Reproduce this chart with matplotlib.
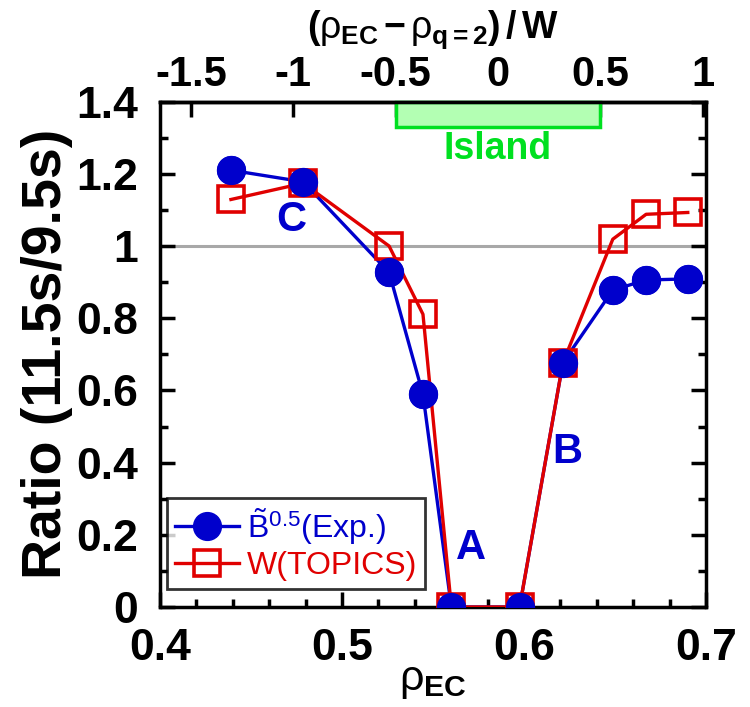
import numpy as np
import matplotlib
matplotlib.use("Agg")
import matplotlib.pyplot as plt
from matplotlib.ticker import MultipleLocator, FixedLocator
from matplotlib.patches import Rectangle

plt.rcParams["font.family"] = ["Liberation Sans", "DejaVu Sans"]
plt.rcParams["mathtext.fontset"] = "custom"
plt.rcParams["mathtext.rm"] = "Liberation Sans"
plt.rcParams["mathtext.it"] = "Liberation Sans"
plt.rcParams["mathtext.bf"] = "Liberation Sans:bold"

# EC deposition radius and ratio of amplitudes (11.5 s / 9.5 s)
rho_ec = [0.439, 0.4787, 0.5259, 0.5445, 0.5601, 0.5976, 0.6214, 0.6488, 0.6671, 0.690]
b_exp = [1.210, 1.178, 0.927, 0.589, 0.0, 0.0, 0.677, 0.878, 0.906, 0.909]
w_topics = [1.129, 1.174, 1.000, 0.811, 0.0, 0.0, 0.677, 1.019, 1.088, 1.093]

# q=2 surface location and island width
rho_q2 = 0.5857
width_w = 0.1125
island = (-0.5, 0.5)

top_ticks = [-1.5, -1, -0.5, 0, 0.5, 1]

blue = "#0000cc"
red = "#e00000"

fig = plt.figure(figsize=(7.5, 7.07), dpi=100)
ax = fig.add_axes([0.2133, 0.1414, 0.728, 0.7148])

ax.axhline(1.0, color="#a8a8a8", lw=2.2, zorder=1)

# island extent, drawn along the top edge
x0 = rho_q2 + island[0] * width_w
x1 = rho_q2 + island[1] * width_w
ax.add_patch(Rectangle((x0, 1.331), x1 - x0, 0.069, facecolor="#b3ffb3",
                       edgecolor="#00e020", lw=2.5, zorder=2, clip_on=False))
ax.text((x0 + x1) / 2, 1.27, "Island", color="#00e020", fontsize=27,
        fontweight="bold", ha="center", va="center")

ax.plot(rho_ec, b_exp, "-o", color=blue, lw=2.4, ms=20, mec=blue,
        label=r"$\tilde{\mathrm{B}}^{0.5}$(Exp.)", zorder=3)
ax.plot(rho_ec, w_topics, "-s", color=red, lw=2.4, ms=19, mfc="none",
        mec=red, mew=2.6, label="W(TOPICS)", zorder=4)
# redraw the circles so the overlapping ones sit on top of the squares
ax.plot(rho_ec, b_exp, "o", color=blue, ms=20, zorder=5)

for s, xx, yy in [("C", 0.4723, 1.072), ("A", 0.5707, 0.163), ("B", 0.624, 0.43)]:
    ax.text(xx, yy, s, color=blue, fontsize=30, fontweight="bold",
            ha="center", va="center")

ax.set_xlim(0.4, 0.7)
ax.set_ylim(0, 1.4)
ax.xaxis.set_major_locator(MultipleLocator(0.1))
ax.xaxis.set_minor_locator(MultipleLocator(0.02))
ax.yaxis.set_major_locator(MultipleLocator(0.2))
ax.yaxis.set_minor_locator(MultipleLocator(0.1))
ax.set_xticks([0.4, 0.5, 0.6, 0.7], ["0.4", "0.5", "0.6", "0.7"])
ax.set_yticks(np.arange(0, 1.41, 0.2),
              ["0", "0.2", "0.4", "0.6", "0.8", "1", "1.2", "1.4"])
ax.tick_params(which="both", direction="in", width=2.5, right=True, top=False,
               labelsize=32)
ax.tick_params(axis="x", pad=15)
ax.tick_params(axis="y", pad=16)
ax.tick_params(which="major", length=11)
ax.tick_params(which="minor", length=6)
for lab in ax.get_xticklabels() + ax.get_yticklabels():
    lab.set_fontweight("bold")
for sp in ax.spines.values():
    sp.set_linewidth(2.5)

ax.set_ylabel("Ratio (11.5s/9.5s)", fontsize=40, fontweight="bold", labelpad=2)
ax.set_xlabel(r"$\rho_{\mathbf{EC}}$", fontsize=31, labelpad=-6)

sec = ax.secondary_xaxis("top", functions=(lambda r: (r - rho_q2) / width_w,
                                           lambda u: rho_q2 + u * width_w))
sec.xaxis.set_major_locator(FixedLocator(top_ticks))
sec.set_xticks(top_ticks, ["-1.5", "-1", "-0.5", "0", "0.5", "1"])
sec.tick_params(direction="in", length=11, width=2.5, labelsize=30, pad=5)
for lab in sec.get_xticklabels():
    lab.set_fontweight("bold")
sec.spines["top"].set_linewidth(2.5)
sec.set_xlabel(r"$\mathbf{(}\rho_{\mathbf{EC}}\,\mathbf{-}\,\rho_{\mathbf{q=2}}\mathbf{)\,/\,W}$",
               fontsize=27, labelpad=12)

leg = ax.legend(loc="lower left", fontsize=23, frameon=True, fancybox=False,
                edgecolor="black", handlelength=2.0, handletextpad=0.25,
                borderpad=0.25, labelspacing=0.15, borderaxespad=0,
                bbox_to_anchor=(0.013, 0.035))
leg.get_frame().set_linewidth(2)
for txt, c in zip(leg.get_texts(), [blue, red]):
    txt.set_color(c)

fig.savefig("out.png", dpi=100)
